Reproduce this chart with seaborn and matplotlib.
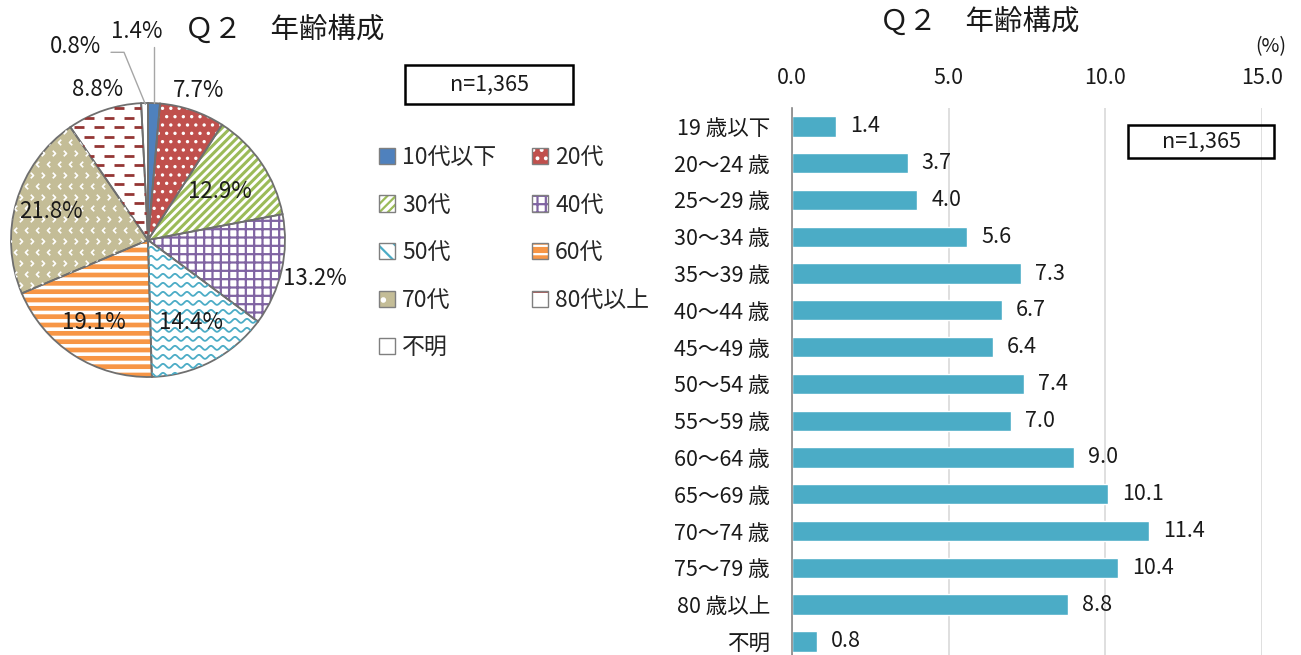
import numpy as np
import pandas as pd
import seaborn as sns
import matplotlib.pyplot as plt
from matplotlib.patches import Patch, Rectangle
from matplotlib.path import Path

# data
pie_labels = ["10代以下", "20代", "30代", "40代", "50代", "60代", "70代", "80代以上", "不明"]
pie_values = [1.4, 7.7, 12.9, 13.2, 14.4, 19.1, 21.8, 8.8, 0.8]

bar_labels = ["19 歳以下", "20～24 歳", "25～29 歳", "30～34 歳", "35～39 歳", "40～44 歳",
              "45～49 歳", "50～54 歳", "55～59 歳", "60～64 歳", "65～69 歳", "70～74 歳",
              "75～79 歳", "80 歳以上", "不明"]
bar_values = [1.4, 3.7, 4.0, 5.6, 7.3, 6.7, 6.4, 7.4, 7.0, 9.0, 10.1, 11.4, 10.4, 8.8, 0.8]

title = "Ｑ２　年齢構成"
n_text = "n=1,365"

# styles
face_cols = ["#4F81BD", "#C0504D", "#FFFFFF", "#FFFFFF", "#FFFFFF", "#F79646", "#C4BD97", "#FFFFFF", "#FFFFFF"]
hatch_cols = ["#4F81BD", "#FFFFFF", "#9BBB59", "#8064A2", "#4BACC6", "#FFFFFF", "#FFFFFF", "#943634", "#FFFFFF"]
hatches = [None, "..", "////", "++", None, "--", None, None, None]
hatch_lw = [1, 1.2, 2.2, 1.6, 1, 2.6, 1, 1, 1]
legend_hatches = [None, "..", "////", "++", "\\\\", "--", ".", "-", None]
lab_dist = [None, 1.15, 0.63, 1.25, 0.68, 0.72, 0.74, 1.16, None]

sns.set_theme(style="white")
plt.rcParams["font.family"] = ["Noto Sans CJK JP", "DejaVu Sans"]
plt.rcParams["hatch.linewidth"] = 1.6
plt.rcParams["lines.scale_dashes"] = False

fig = plt.figure(figsize=(13.01, 6.55), dpi=100)
W, H = 1301, 655
txt = "#1a1a1a"

# ---- pie
R = 137
cx, cy = 148, 240
axp = fig.add_axes([(cx - 1.5 * R) / W, 1 - (cy + 1.5 * R) / H, 3 * R / W, 3 * R / H])
wedges, _ = axp.pie(pie_values, startangle=90, counterclock=False, colors=face_cols,
                    wedgeprops=dict(linewidth=0))
for w, hc, h, hl in zip(wedges, hatch_cols, hatches, hatch_lw):
    w.set_edgecolor(hc)
    if h:
        w.set_hatch(h)
        if hasattr(w, "set_hatch_linewidth"):
            w.set_hatch_linewidth(hl)

px = 1 / R  # one pixel in pie units
# 50代: wavy lines
xs = np.linspace(-1.05, 1.05, 600)
for y0 in np.arange(-1.05, 1.05, 9 * px):
    ln, = axp.plot(xs, y0 + 2 * px * np.sin(2 * np.pi * xs / (12 * px)), color="#4BACC6", lw=1.3)
    ln.set_clip_path(wedges[4])
# 80代以上: staggered dashes
for k, y0 in enumerate(np.arange(-1.05, 1.05, 9.5 * px)):
    ln, = axp.plot([-1.05, 1.05], [y0, y0], color="#943634", lw=2,
                   linestyle=((k % 2) * 7.2, (7.2, 7.2)))
    ln.set_clip_path(wedges[7])
# 70代: small white chevrons
gx = np.arange(-1.05, 1.05, 11 * px)
chev_r = Path([(-0.5, 0.8), (0.3, 0), (-0.5, -0.8)], [Path.MOVETO, Path.LINETO, Path.LINETO])
chev_l = Path([(0.5, 0.8), (-0.3, 0), (0.5, -0.8)], [Path.MOVETO, Path.LINETO, Path.LINETO])
for k, y0 in enumerate(np.arange(-1.05, 1.05, 11 * px)):
    ln, = axp.plot(gx + (k % 2) * 5.5 * px, np.full_like(gx, y0), linestyle="none",
                   marker=chev_r if k % 2 else chev_l, markersize=4, mfc="none",
                   mec="white", mew=1.2)
    ln.set_clip_path(wedges[6])

axp.pie(pie_values, startangle=90, counterclock=False,
        wedgeprops=dict(facecolor="none", edgecolor="#6F6F6F", linewidth=1.3))
axp.set_xlim(-1.5, 1.5)
axp.set_ylim(-1.5, 1.5)
axp.set_aspect("equal")
axp.axis("off")

cum = np.cumsum([0] + pie_values[:-1])
mids = np.deg2rad(90 - (cum + np.array(pie_values) / 2) * 3.6)
for i, v in enumerate(pie_values):
    if lab_dist[i] is None:
        continue
    axp.text(lab_dist[i] * np.cos(mids[i]), lab_dist[i] * np.sin(mids[i]), f"{v}%",
             ha="center", va="center", fontsize=16, color=txt)

# leader labels for the thin slices
axp.text(-0.08, 1.52, f"{pie_values[0]}%", ha="center", va="center", fontsize=16, color=txt)
axp.plot([np.cos(mids[0])] * 2, [np.sin(mids[0]), 1.41], color="#A6A6A6", lw=1, clip_on=False)
axp.text(-0.53, 1.41, f"{pie_values[8]}%", ha="center", va="center", fontsize=16, color=txt)
axp.plot([-0.27, -0.175, np.cos(mids[8]) * 0.99], [1.37, 1.37, np.sin(mids[8]) * 0.99],
         color="#A6A6A6", lw=1, clip_on=False)

fig.text(285 / W, 1 - 30 / H, title, ha="center", va="center", fontsize=20.5, color=txt)

# n box (pie)
fig.add_artist(Rectangle((405 / W, 1 - 104 / H), 168 / W, 39 / H, transform=fig.transFigure,
                         fill=False, edgecolor="black", linewidth=1.8))
fig.text(489 / W, 1 - 85 / H, n_text, ha="center", va="center", fontsize=15.5, color=txt)

# legend (row-wise order)
handles = []
for fc, hc, h in zip(face_cols, hatch_cols, legend_hatches):
    p1 = Patch(facecolor=fc, edgecolor=hc, hatch=h, linewidth=0)
    p2 = Patch(facecolor="none", edgecolor="#7F7F7F", linewidth=1)
    handles.append((p1, p2))
order = [0, 2, 4, 6, 8, 1, 3, 5, 7]
fig.legend([handles[i] for i in order], [pie_labels[i] for i in order], ncol=2,
           loc="upper left", bbox_to_anchor=(379 / W, 1 - 146 / H),
           frameon=False, fontsize=16.5, handlelength=0.7, handleheight=0.7, handletextpad=0.3,
           columnspacing=1.58, labelspacing=1.07, borderaxespad=0, borderpad=0)

# ---- bar
df = pd.DataFrame({"age": bar_labels, "pct": bar_values})
top = 108
step = (641 - 126) / 14
bottom = top + step * 15
axb = fig.add_axes([792 / W, 1 - bottom / H, 470 / W, (bottom - top) / H])
sns.barplot(data=df, x="pct", y="age", color="#4BACC6", saturation=1, width=0.55, ax=axb)
axb.set_xlim(0, 15)
axb.set_xticks([0, 5, 10, 15])
axb.xaxis.set_major_formatter(plt.FormatStrFormatter("%.1f"))
axb.xaxis.tick_top()
axb.tick_params(axis="x", length=0, pad=14, labelsize=15.5, labelcolor=txt)
axb.tick_params(axis="y", length=0, pad=16, labelsize=15.5, labelcolor=txt)
axb.grid(axis="x", color="#D9D9D9", linewidth=1.2)
axb.set_axisbelow(True)
for s in ["top", "right", "bottom"]:
    axb.spines[s].set_visible(False)
axb.spines["left"].set_color("#868686")
axb.spines["left"].set_linewidth(1.2)
axb.set_xlabel("")
axb.set_ylabel("")
axb.bar_label(axb.containers[0], fmt="%.1f", padding=10, fontsize=15.5, color=txt)

fig.text(980 / W, 1 - 22 / H, title, ha="center", va="center", fontsize=20.5, color=txt)
fig.text(1271 / W, 1 - 47 / H, "(%)", ha="center", va="center", fontsize=14, color=txt)

fig.add_artist(Rectangle((1128 / W, 1 - 158 / H), 146 / W, 33 / H, transform=fig.transFigure,
                         fill=False, edgecolor="black", linewidth=1.8))
fig.text(1201 / W, 1 - 142 / H, n_text, ha="center", va="center", fontsize=15.5, color=txt)

fig.savefig("out.png", dpi=100)
